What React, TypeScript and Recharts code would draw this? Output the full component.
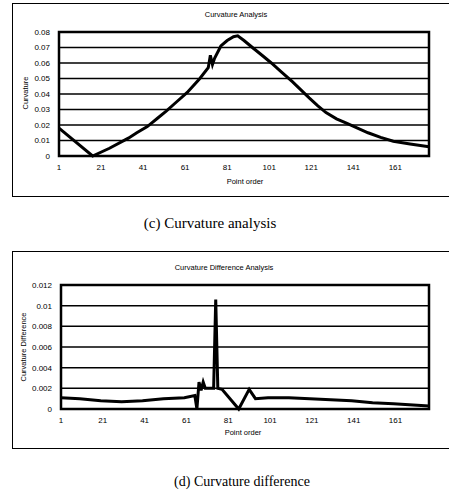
import { LineChart, Line, XAxis, YAxis, CartesianGrid, ReferenceArea } from 'recharts'

// Curvature analysis (c): point order vs curvature
const curvaturePoints = [1, 17, 25, 34, 38, 43, 48, 52, 57, 62, 68, 72, 73, 74, 75, 78, 81, 84, 86, 89, 93, 98, 102, 107, 112, 120, 124, 128, 133, 138, 143, 148, 154, 160, 168, 177]
const curvatureValues = [0.018, 0, 0.005, 0.0115, 0.015, 0.019, 0.0245, 0.029, 0.035, 0.041, 0.05, 0.057, 0.065, 0.059, 0.063, 0.071, 0.0745, 0.077, 0.0775, 0.0745, 0.07, 0.0645, 0.06, 0.054, 0.048, 0.0375, 0.0325, 0.028, 0.024, 0.021, 0.018, 0.015, 0.012, 0.0095, 0.0078, 0.006]
const curvatureTicks = [0, 0.01, 0.02, 0.03, 0.04, 0.05, 0.06, 0.07, 0.08]

// Curvature difference (d)
const diffPoints = [1, 10, 20, 30, 40, 50, 60, 65, 66, 67, 68, 69, 70, 74, 75, 76, 78, 86, 91, 94, 100, 110, 120, 130, 140, 150, 160, 177]
const diffValues = [0.0011, 0.001, 0.0008, 0.0007, 0.0008, 0.001, 0.0011, 0.0013, 0, 0.0026, 0.0018, 0.0026, 0.002, 0.002, 0.0106, 0.002, 0.0019, 0, 0.0019, 0.001, 0.0011, 0.0011, 0.001, 0.0009, 0.0008, 0.0006, 0.0005, 0.0003]
const diffTicks = [0, 0.002, 0.004, 0.006, 0.008, 0.01, 0.012]

const pointTicks = [1, 21, 41, 61, 81, 101, 121, 141, 161]

const curvatureData = curvaturePoints.map((p, i) => ({ point: p, value: curvatureValues[i] }))
const diffData = diffPoints.map((p, i) => ({ point: p, value: diffValues[i] }))

const sans = '"Liberation Sans", Arial, sans-serif'
const tickStyle = { fontSize: 8, fill: '#000', fontFamily: sans }

function Text({ x, y, children, size = 7.5, rotate = false, serif = false }: any) {
  return (
    <div
      style={{
        position: 'absolute',
        left: x,
        top: y,
        transform: `translate(-50%, -50%)${rotate ? ' rotate(-90deg)' : ''}`,
        whiteSpace: 'nowrap',
        fontSize: size,
        fontFamily: serif ? '"Liberation Serif", "Times New Roman", serif' : sans,
        color: '#000',
        lineHeight: 1,
      }}
    >
      {children}
    </div>
  )
}

function Panel({ top, height, data, ticks, yMax, yWidth, marginTop, xHeight }: any) {
  return (
    <div
      style={{
        position: 'absolute',
        left: 12,
        top,
        width: 440,
        height,
        border: '1px solid #000',
        boxSizing: 'border-box',
      }}
    >
      <LineChart
        width={438}
        height={height - 2}
        data={data}
        margin={{ top: marginTop, right: 22, bottom: 10, left: 0 }}
      >
        <CartesianGrid vertical={false} stroke="#000" strokeWidth={1.5} />
        <XAxis
          dataKey="point"
          type="number"
          domain={[1, 177]}
          ticks={pointTicks}
          tick={tickStyle}
          tickLine={false}
          axisLine={false}
          tickSize={0}
          tickMargin={8}
          height={xHeight}
          interval={0}
        />
        <YAxis
          domain={[0, yMax]}
          ticks={ticks}
          tick={tickStyle}
          tickLine={false}
          axisLine={false}
          tickSize={0}
          tickMargin={9}
          width={yWidth}
          interval={0}
        />
        <ReferenceArea x1={1} x2={177} y1={0} y2={yMax} fill="none" stroke="#000" strokeWidth={2.5} />
        <Line
          type="linear"
          dataKey="value"
          stroke="#000"
          strokeWidth={3}
          dot={false}
          isAnimationActive={false}
        />
      </LineChart>
    </div>
  )
}

export default function App() {
  return (
    <div style={{ position: 'absolute', left: 0, top: 0, width: 449, height: 493, overflow: 'hidden', background: '#fff' }}>
      <Panel top={3} height={194} data={curvatureData} ticks={curvatureTicks} yMax={0.08} yWidth={46} marginTop={28} xHeight={30} />
      <Text x={236} y={15}>Curvature Analysis</Text>
      <Text x={26} y={93} rotate>Curvature</Text>
      <Text x={245} y={182}>Point order</Text>
      <Text x={210} y={223} size={15} serif>(c) Curvature analysis</Text>

      <Panel top={251} height={198} data={diffData} ticks={diffTicks} yMax={0.012} yWidth={48} marginTop={33} xHeight={29} />
      <Text x={224} y={268}>Curvature Difference Analysis</Text>
      <Text x={24} y={347} rotate>Curvature Difference</Text>
      <Text x={243} y={433}>Point order</Text>
      <Text x={242} y={482} size={14} serif>(d) Curvature difference</Text>
    </div>
  )
}
